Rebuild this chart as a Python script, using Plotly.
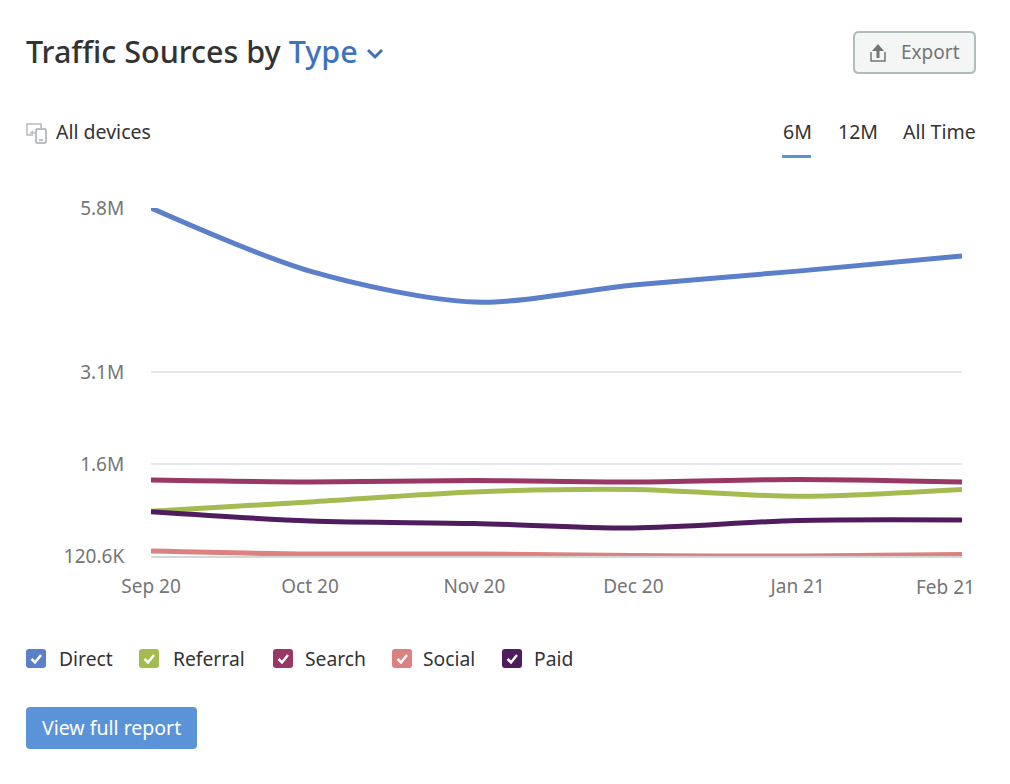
import numpy as np
import plotly.graph_objects as go

# page body keeps its default margin, so the figure starts here
PAGE_MARGIN = 8
FIG_W = 994
FIG_H = 768

dates = ["2020-09-01", "2020-10-01", "2020-11-01", "2020-12-01", "2021-01-01", "2021-02-01"]
month_labels = ["Sep 20", "Oct 20", "Nov 20", "Dec 20", "Jan 21", "Feb 21"]

# values in millions
direct = [5.80, 4.76, 4.25, 4.53, 4.76, 5.01]
referral = [0.84, 0.99, 1.15, 1.19, 1.08, 1.19]
search = [1.34, 1.31, 1.335, 1.31, 1.35, 1.31]
social = [0.20, 0.153, 0.153, 0.129, 0.121, 0.145]
paid = [0.83, 0.683, 0.643, 0.571, 0.691, 0.70]

# the source chart uses a compressed y scale, ticks are not linear in value
tick_values = [0.1206, 1.6, 3.1, 5.8]
tick_scale = [0, 1, 2, 3.78]
tick_labels = ["120.6K", "1.6M", "3.1M", "5.8M"]

series_names = ["Direct", "Referral", "Search", "Social", "Paid"]
series_colors = ["#5b7fc9", "#a4bb52", "#993767", "#db817f", "#4f1d5e"]
series_values = [direct, referral, search, social, paid]

FONT = "Noto Sans"
DARK = "#333333"
GREY = "#757575"
BLUE = "#5b93d8"


def px(x):
    return (x - PAGE_MARGIN) / FIG_W


def py(y):
    return 1 - (y - PAGE_MARGIN) / FIG_H


def to_scale(vals):
    return np.interp(vals, tick_values, tick_scale)


def path(points, close=False):
    d = "M " + " L ".join(f"{px(x):.5f},{py(y):.5f}" for x, y in points)
    return d + (" Z" if close else "")


def rounded(x0, y0, x1, y1, r):
    # rounded rectangle in paper coordinates
    return (
        f"M {px(x0 + r):.5f},{py(y0):.5f} L {px(x1 - r):.5f},{py(y0):.5f} "
        f"Q {px(x1):.5f},{py(y0):.5f} {px(x1):.5f},{py(y0 + r):.5f} "
        f"L {px(x1):.5f},{py(y1 - r):.5f} Q {px(x1):.5f},{py(y1):.5f} {px(x1 - r):.5f},{py(y1):.5f} "
        f"L {px(x0 + r):.5f},{py(y1):.5f} Q {px(x0):.5f},{py(y1):.5f} {px(x0):.5f},{py(y1 - r):.5f} "
        f"L {px(x0):.5f},{py(y0 + r):.5f} Q {px(x0):.5f},{py(y0):.5f} {px(x0 + r):.5f},{py(y0):.5f} Z"
    )


fig = go.Figure()

for name, color, values in zip(series_names, series_colors, series_values):
    fig.add_trace(go.Scatter(
        x=dates,
        y=to_scale(values),
        name=name,
        mode="lines",
        line=dict(color=color, width=5, shape="spline", smoothing=0.85),
        cliponaxis=False,
        showlegend=False,
    ))

shapes = []
annotations = []


def label(x, y, text, size=19, color=DARK, anchor="left", weight=None):
    annotations.append(dict(
        x=px(x), y=py(y), xref="paper", yref="paper", text=text, showarrow=False,
        xanchor=anchor, yanchor="middle", xshift=0, borderpad=0, borderwidth=0,
        font=dict(family=FONT, size=size, color=color, weight=weight),
    ))


def stroke(points, color, width=2, close=False):
    shapes.append(dict(type="path", xref="paper", yref="paper", path=path(points, close),
                       line=dict(color=color, width=width)))


def box(x0, y0, x1, y1, r, fill, line_color=None, width=0):
    shapes.append(dict(type="path", xref="paper", yref="paper", path=rounded(x0, y0, x1, y1, r),
                       fillcolor=fill, line=dict(color=line_color or fill, width=width)))


# header
label(26, 51, 'Traffic Sources by <span style="color:#3e73bb">Type</span>', size=30.5, weight=500)
stroke([(368, 50), (375, 57), (382, 50)], "#3e73bb", 3)

# export button
box(854, 32, 975, 73, 5, "#f4f5f5", "#b3bcbc", 2)
stroke([(871, 52), (871, 61), (885, 61), (885, 52)], GREY, 1.5)
stroke([(878, 58), (878, 49)], GREY, 3)
shapes.append(dict(type="path", xref="paper", yref="paper",
                   path=path([(872, 51), (878, 44), (884, 51)], close=True),
                   fillcolor=GREY, line=dict(width=0)))
label(901, 52, "Export", size=19, color=GREY)

# device filter
stroke([(33, 135), (27, 135), (27, 124), (41, 124), (41, 128)], "#b3bcbc", 1.5)
stroke([(35, 133), (31, 133), (33, 131)], "#b3bcbc", 1.5)
box(36, 129, 46, 143, 1, "#ffffff", "#a4adb1", 1.5)
stroke([(39, 140), (43, 140)], "#a4adb1", 1.5)
label(56, 131.5, "All devices", size=19.5)

# period tabs
label(783, 131.5, "6M", size=19.5)
label(838, 131.5, "12M", size=19.5)
label(903, 131.5, "All Time", size=19.5)
shapes.append(dict(type="rect", xref="paper", yref="paper", x0=px(782), x1=px(811), y0=py(155), y1=py(158),
                   fillcolor=BLUE, line=dict(width=0)))

# legend checkboxes
legend_box_x = [26, 139, 273, 392, 502]
legend_text_x = [59, 173, 305, 423, 534]
for name, color, bx, tx in zip(series_names, series_colors, legend_box_x, legend_text_x):
    box(bx, 649, bx + 20, 668, 3, color)
    stroke([(bx + 5.5, 659), (bx + 9, 662.5), (bx + 15, 655)], "#ffffff", 2.5)
    label(tx, 658.5, name, size=19.3)

# report button
box(26, 707, 197, 749, 4, BLUE)
label(111.5, 727.5, "View full report", size=19.5, color="#ffffff", anchor="center")

# last month label is pulled inside the card in the source, so it can't be a centred tick label
label(975, 587, month_labels[-1], size=19, color=GREY, anchor="right")

fig.update_layout(
    width=FIG_W,
    height=FIG_H,
    autosize=False,
    margin=dict(l=0, r=0, t=0, b=0),
    paper_bgcolor="#ffffff",
    plot_bgcolor="#ffffff",
    font=dict(family=FONT, size=18, color=GREY),
    shapes=shapes,
    annotations=annotations,
    xaxis=dict(
        domain=[px(151), px(962)],
        type="date",
        range=[dates[0], dates[-1]],
        tickmode="array",
        tickvals=dates[:-1],
        ticktext=month_labels[:-1],
        showgrid=False,
        zeroline=False,
        showline=True,
        linecolor="#d4d6d8",
        linewidth=1.5,
        ticks="outside",
        ticklen=12,
        tickcolor="rgba(0,0,0,0)",
        tickfont=dict(family=FONT, size=19, color=GREY),
        anchor="y",
        automargin=False,
    ),
    yaxis=dict(
        domain=[py(556), py(208)],
        range=[tick_scale[0], tick_scale[-1]],
        tickmode="array",
        tickvals=tick_scale,
        ticktext=tick_labels,
        showgrid=True,
        gridcolor="#e6e7e9",
        gridwidth=1.5,
        zeroline=False,
        showline=False,
        ticks="outside",
        ticklen=22,
        tickcolor="rgba(0,0,0,0)",
        tickfont=dict(family=FONT, size=19, color=GREY),
        anchor="x",
        automargin=False,
    ),
)

fig.write_html("out.html")
